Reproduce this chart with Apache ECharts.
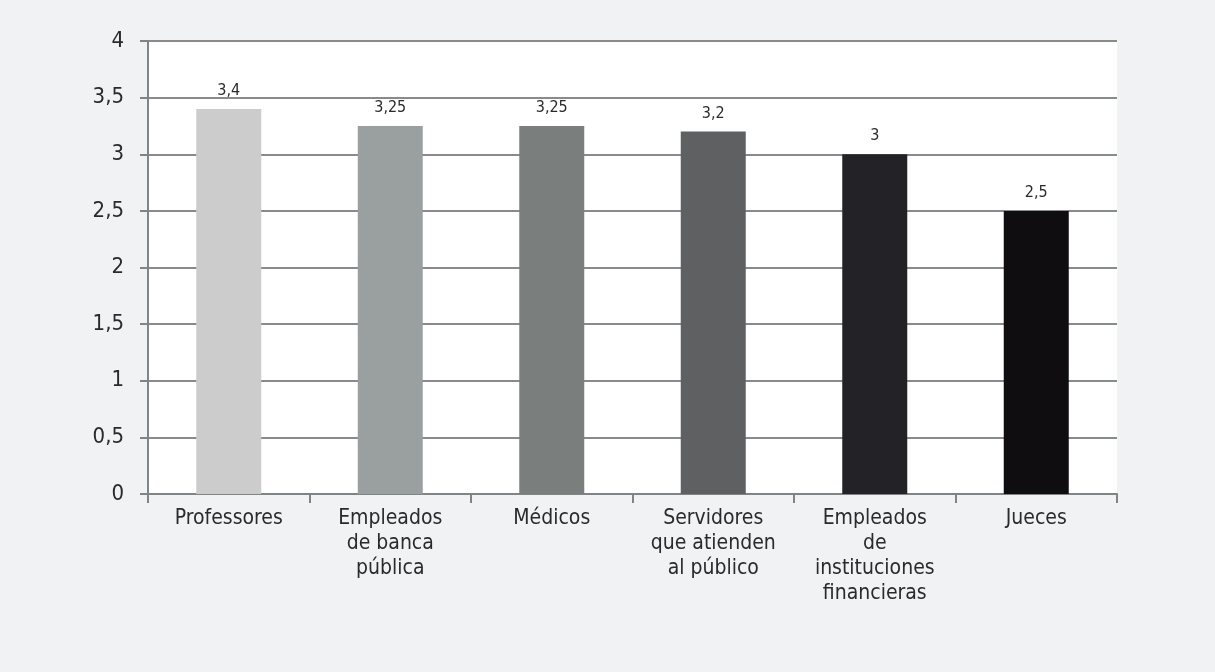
<!DOCTYPE html>
<html>
<head>
<meta charset="utf-8">
<script src="https://cdn.jsdelivr.net/npm/echarts@6/dist/echarts.min.js"></script>
<style>
html,body{margin:0;padding:0;background:#f1f2f4;}
#chart{width:1215px;height:672px;}
</style>
</head>
<body>
<div id="chart"></div>
<script>
var categories = ["Professores", "Empleados\nde banca\npública", "Médicos", "Servidores\nque atienden\nal público", "Empleados\nde\ninstituciones\nfinancieras", "Jueces"];
var values = [3.4, 3.25, 3.25, 3.2, 3, 2.5];
var barColors = ["#cccccc", "#9a9fa0", "#7a7f7e", "#5f6062", "#232226", "#100d10"];
var yTicks = [0, 0.5, 1, 1.5, 2, 2.5, 3, 3.5, 4];

var FONT = "'Liberation Sans Narrow', 'DejaVu Sans Condensed', sans-serif";
function fmt(v){ return String(v).replace('.', ','); }

var chart = echarts.init(document.getElementById('chart'));
chart.setOption({
  backgroundColor: '#f1f2f4',
  animation: false,
  grid: {left: 148, right: 98, top: 41, bottom: 178, show: true, backgroundColor: '#ffffff', borderWidth: 0},
  xAxis: {
    type: 'category',
    data: categories,
    axisLine: {lineStyle: {color: '#7f8487', width: 2}},
    axisTick: {show: true, length: 9, lineStyle: {color: '#7f8487', width: 2}},
    axisLabel: {color: '#2a2a2a', fontFamily: FONT, fontSize: 21, lineHeight: 25, margin: 12, interval: 0}
  },
  yAxis: {
    type: 'value',
    min: 0, max: 4, interval: 0.5,
    axisLine: {show: true, lineStyle: {color: '#7f8487', width: 2}},
    axisTick: {show: true, length: 8, lineStyle: {color: '#7f8487', width: 2}},
    splitLine: {lineStyle: {color: '#878b8e', width: 2}},
    axisLabel: {color: '#2a2a2a', fontFamily: FONT, fontSize: 22, margin: 24,
      formatter: function(v){ return yTicks.indexOf(v) >= 0 ? fmt(v) : ''; }}
  },
  series: [{
    type: 'bar',
    barWidth: 65,
    data: values.map(function(v, i){ return {value: v, itemStyle: {color: barColors[i]}}; }),
    label: {show: true, position: 'top', distance: 10, color: '#2a2a2a', fontFamily: FONT, fontSize: 16,
      formatter: function(p){ return fmt(p.value); }}
  }]
});
</script>
</body>
</html>
